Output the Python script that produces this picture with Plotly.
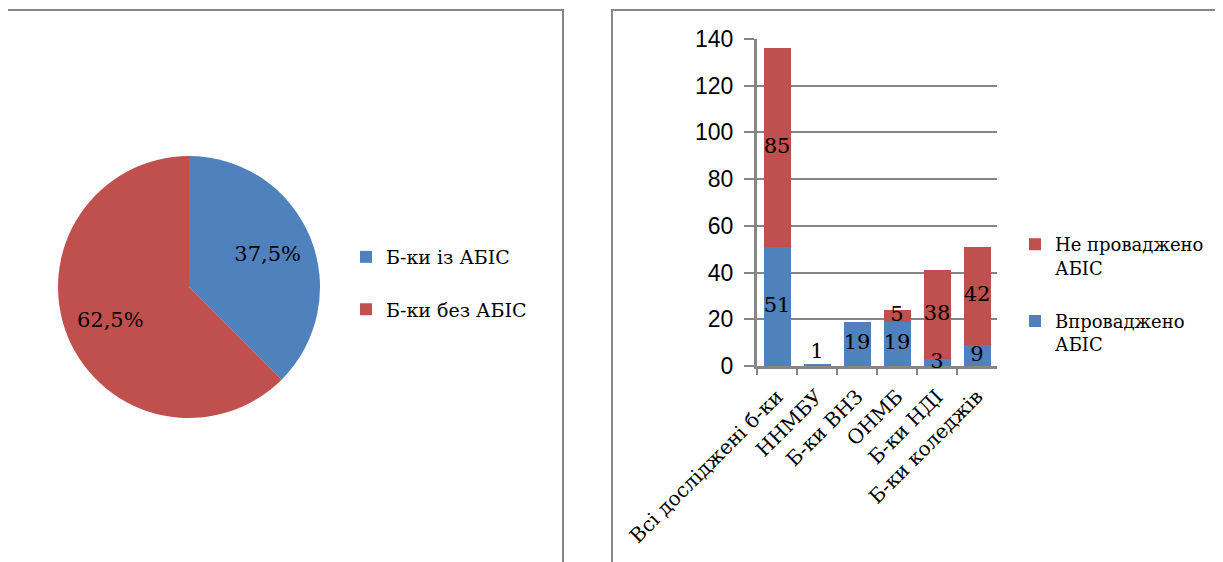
import plotly.graph_objects as go

# ---- data ----
pie_labels = ["Б-ки із АБІС", "Б-ки без АБІС"]
pie_values = [37.5, 62.5]

categories = ["Всі досліджені б-ки", "ННМБУ", "Б-ки ВНЗ", "ОНМБ", "Б-ки НДІ", "Б-ки коледжів"]
implemented = [51, 1, 19, 19, 3, 9]
not_implemented = [85, None, None, 5, 38, 42]
series_names = ["Впроваджено АБІС", "Не проваджено АБІС"]

BLUE = "#4F81BD"
RED = "#C0504D"
GREY = "#868686"
SERIF = "DejaVu Serif"
SANS = "Liberation Sans"

W, H = 1223, 562
OFF = 8  # page body margin

def px_x(v):
    return (v - OFF) / W

def px_y(v):
    return 1 - (v - OFF) / H

pie_domain = dict(x=[px_x(58), px_x(320)], y=[px_y(418), px_y(156)])

fig = go.Figure()

# filled pie (no text)
fig.add_trace(go.Pie(
    labels=[l + "<br> " for l in pie_labels],
    values=pie_values,
    sort=False, direction="clockwise", rotation=0,
    marker=dict(colors=[BLUE, RED], line=dict(width=0)),
    textinfo="none",
    domain=pie_domain,
    legend="legend",
    hoverinfo="label+percent",
))
# transparent overlay ring carrying the percentage labels further out
fig.add_trace(go.Pie(
    labels=[l + "<br> " for l in pie_labels],
    values=pie_values,
    sort=False, direction="clockwise", rotation=0, hole=0.3,
    marker=dict(colors=["rgba(0,0,0,0)", "rgba(0,0,0,0)"], line=dict(width=0)),
    texttemplate="%{percent:.1%}",
    textposition="inside",
    insidetextorientation="horizontal",
    textfont=dict(family=SERIF, size=21, color="black"),
    domain=pie_domain,
    showlegend=False,
    hoverinfo="skip",
))

fig.add_trace(go.Bar(
    x=categories, y=implemented, name=series_names[0].replace(" АБІС", "<br>АБІС"),
    marker=dict(color=BLUE, line=dict(width=0)),
    legend="legend2", legendgroup="a", legendrank=2,
))
fig.add_trace(go.Bar(
    x=categories, y=not_implemented, name=series_names[1].replace(" АБІС", "<br>АБІС"),
    marker=dict(color=RED, line=dict(width=0)),
    legend="legend2", legendgroup="b", legendrank=1,
))

# data labels, centred on each segment (drawn above all bars)
blue_y = [v if v < 2 else v / 2 for v in implemented]
blue_pos = ["top center" if v < 2 else "middle center" for v in implemented]
red_x = [c for c, r in zip(categories, not_implemented) if r is not None]
red_y = [b + r / 2 for b, r in zip(implemented, not_implemented) if r is not None]
red_t = [str(r) for r in not_implemented if r is not None]

fig.add_trace(go.Scatter(
    x=categories, y=blue_y, mode="text", text=[str(v) for v in implemented],
    textposition=blue_pos, textfont=dict(family=SERIF, size=21, color="black"),
    showlegend=False, hoverinfo="skip", cliponaxis=False,
))
fig.add_trace(go.Scatter(
    x=red_x, y=red_y, mode="text", text=red_t,
    textposition="middle center", textfont=dict(family=SERIF, size=21, color="black"),
    showlegend=False, hoverinfo="skip", cliponaxis=False,
))

fig.update_layout(
    width=W, height=H,
    margin=dict(l=0, r=0, t=0, b=0, autoexpand=False),
    paper_bgcolor="white", plot_bgcolor="white",
    separators=", ",
    barmode="stack", bargap=0.325,
    font=dict(family=SERIF, color="black"),
    xaxis=dict(
        domain=[px_x(757), px_x(997)],
        tickangle=-45, tickson="boundaries", ticks="outside", ticklen=6,
        tickwidth=2, tickcolor=GREY,
        showline=True, linecolor=GREY, linewidth=3, showgrid=False,
        tickfont=dict(family=SERIF, size=20, color="black"),
        ticklabelstandoff=8, layer="below traces",
    ),
    yaxis=dict(
        domain=[px_y(366), px_y(39)],
        range=[0, 140], dtick=20, tick0=0,
        ticks="outside", ticklen=10, tickwidth=2, tickcolor=GREY,
        showline=True, linecolor=GREY, linewidth=3,
        showgrid=True, gridcolor=GREY, gridwidth=2, zeroline=False,
        tickfont=dict(family=SANS, size=23, color="black"),
        ticklabelstandoff=6, layer="below traces",
    ),
    legend=dict(
        x=px_x(346), y=px_y(238), xanchor="left", yanchor="top",
        font=dict(family=SERIF, size=19, color="black"),
        valign="top", bgcolor="rgba(0,0,0,0)",
    ),
    legend2=dict(
        x=px_x(1015), y=px_y(226), xanchor="left", yanchor="top",
        traceorder="grouped", tracegroupgap=27,
        font=dict(family=SERIF, size=18, color="black"),
        valign="top", bgcolor="rgba(0,0,0,0)",
    ),
    shapes=[
        dict(type="rect", xref="paper", yref="paper",
             x0=px_x(7), x1=px_x(563), y0=px_y(580), y1=px_y(10),
             line=dict(color=GREY, width=2), fillcolor="rgba(0,0,0,0)", layer="below"),
        dict(type="rect", xref="paper", yref="paper",
             x0=px_x(612), x1=px_x(1245), y0=px_y(580), y1=px_y(10),
             line=dict(color=GREY, width=2), fillcolor="rgba(0,0,0,0)", layer="below"),
    ],
)

fig.write_html("out.html")
